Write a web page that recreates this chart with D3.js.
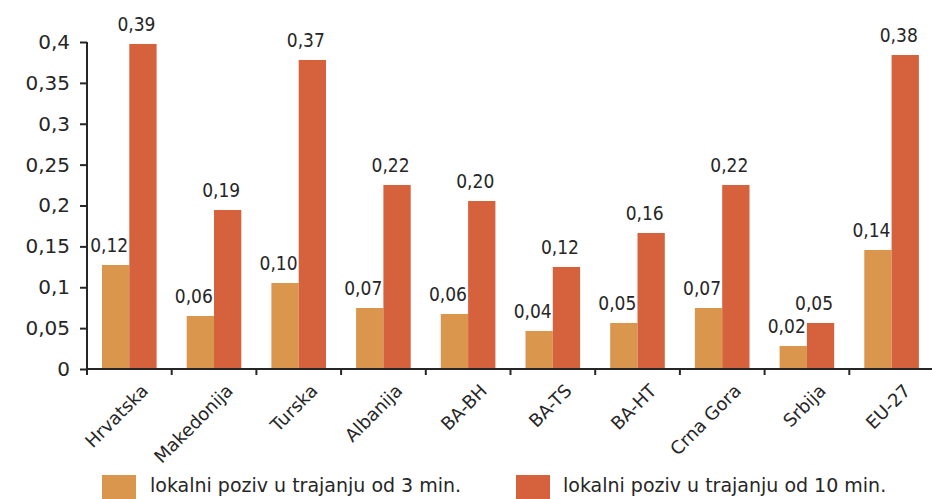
<!DOCTYPE html>
<html><head><meta charset="utf-8">
<script src="https://cdn.jsdelivr.net/npm/d3@7"></script>
<style>body{margin:0;background:#fff}svg{display:block}</style>
</head><body><svg id="c" width="932" height="499"></svg>
<script>
const categories = ["Hrvatska","Makedonija","Turska","Albanija","BA-BH","BA-TS","BA-HT","Crna Gora","Srbija","EU-27"];
const series = ["lokalni poziv u trajanju od 3 min.","lokalni poziv u trajanju od 10 min."];
const values3 = [0.1272,0.0648,0.1052,0.0746,0.0673,0.0465,0.0563,0.0746,0.0281,0.1456];
const values10 = [0.3976,0.1945,0.378,0.2251,0.2055,0.1248,0.1664,0.2251,0.0563,0.3841];
const labels3 = ["0,12","0,06","0,10","0,07","0,06","0,04","0,05","0,07","0,02","0,14"];
const labels10 = ["0,39","0,19","0,37","0,22","0,20","0,12","0,16","0,22","0,05","0,38"];
const yTicks = [0,0.05,0.1,0.15,0.2,0.25,0.3,0.35,0.4];
const yTickLabels = ["0","0,05","0,1","0,15","0,2","0,25","0,3","0,35","0,4"];
const colors = ["#D9964C","#D5623D"];

const svg = d3.select("#c");
const x = d3.scaleBand().domain(categories).range([87, 934]).paddingInner(0).paddingOuter(0);
const x1 = d3.scaleBand().domain([0,1]).range([15, 69.6]);
const y = d3.scaleLinear().domain([0,0.4]).range([369, 42]);
const ink = "#262626";

const data = [values3, values10];
const labs = [labels3, labels10];

// bars
data.forEach((vals, s) => {
  svg.append("g").selectAll("rect").data(vals).join("rect")
    .attr("x", (d,i) => x(categories[i]) + x1(s))
    .attr("y", d => y(d))
    .attr("width", x1.bandwidth())
    .attr("height", d => y(0) - y(d))
    .attr("fill", colors[s]);
});

// value labels
data.forEach((vals, s) => {
  svg.append("g").selectAll("text").data(vals).join("text")
    .attr("x", (d,i) => x(categories[i]) + x1(s) + x1.bandwidth()/2 - 6.5)
    .attr("y", d => y(d) - 13)
    .attr("text-anchor", "middle")
    .attr("font-family", "'DejaVu Sans Condensed','DejaVu Sans',sans-serif")
    .attr("font-size", 19)
    .attr("fill", ink)
    .text((d,i) => labs[s][i]);
});

// y axis
const yAxis = d3.axisLeft(y).tickValues(yTicks).tickSize(7).tickPadding(10)
  .tickFormat((d,i) => yTickLabels[i]);
const gy = svg.append("g").attr("transform","translate(87,0)").call(yAxis);
gy.select(".domain").attr("stroke", ink).attr("stroke-width", 2).attr("d", "M0,369V42");
gy.selectAll(".tick line").attr("stroke", ink).attr("stroke-width", 2);
gy.selectAll(".tick text").attr("font-family","'DejaVu Sans',sans-serif").attr("font-size",20).attr("fill",ink);

// x axis
const xTicksPos = categories.map(c => x(c));
const xAxis = d3.axisBottom(x).tickSize(0).tickFormat("");
const gx = svg.append("g").attr("transform","translate(0,369)").call(xAxis);
gx.select(".domain").attr("stroke", ink).attr("stroke-width", 2).attr("d","M86,0H934");
gx.selectAll(".tick").remove();
gx.selectAll("line.sep").data(xTicksPos).join("line").attr("class","sep")
  .attr("x1", d => d).attr("x2", d => d).attr("y1", 0).attr("y2", 6)
  .attr("stroke", ink).attr("stroke-width", 2);
gx.selectAll("text.cat").data(categories).join("text").attr("class","cat")
  .attr("transform", d => `translate(${x(d) + x.bandwidth()/2 + 20},23) rotate(-45)`)
  .attr("text-anchor","end")
  .attr("font-family","'DejaVu Sans',sans-serif").attr("font-size",18).attr("fill",ink)
  .text(d => d);

// legend
const legX = [102, 516];
const legT = [150, 563];
series.forEach((s, i) => {
  svg.append("rect").attr("x", legX[i]).attr("y", 475).attr("width", 34).attr("height", 24).attr("fill", colors[i]);
  svg.append("text").attr("x", legT[i]).attr("y", 492)
    .attr("font-family","'DejaVu Sans',sans-serif").attr("font-size",19).attr("fill",ink).text(s);
});
</script></body></html>
